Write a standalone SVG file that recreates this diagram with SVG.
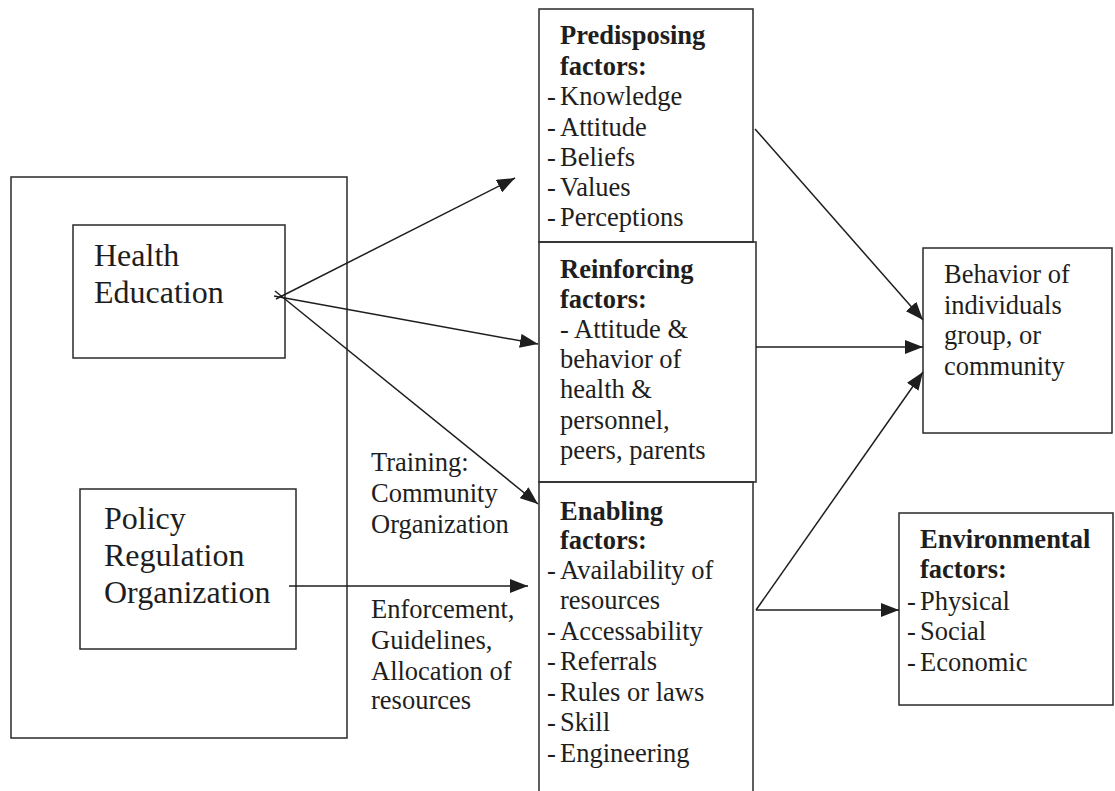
<svg xmlns="http://www.w3.org/2000/svg" width="1115" height="791" viewBox="0 0 1115 791">
  <defs>
    <marker id="arrow" viewBox="0 0 18 14" refX="18" refY="7" markerWidth="18" markerHeight="14" markerUnits="userSpaceOnUse" orient="auto">
      <path d="M0,0 L18,7 L0,14 Z" fill="#1e1e1e"/>
    </marker>
    <style>
      .box { fill: none; stroke: #2a2a2a; stroke-width: 1.5; }
      .t { font-family: "Liberation Serif", "Times New Roman", serif; font-size: 26.5px; fill: #1e1e1e; }
      .big { font-size: 32px; }
      .b { font-weight: bold; }
      .edge { fill: none; stroke: #1e1e1e; stroke-width: 1.5; marker-end: url(#arrow); }
    </style>
  </defs>
  <rect width="1115" height="791" fill="#ffffff"/>

  <!-- Outer frame holding the two intervention boxes -->
  <g id="interventions">
    <rect class="box" x="11" y="177" width="336" height="561"/>
  </g>

  <g id="health-education">
    <rect class="box" x="73" y="225" width="212" height="133"/>
    <text class="t big" x="94" y="266">Health</text>
    <text class="t big" x="94" y="303">Education</text>
  </g>

  <g id="policy">
    <rect class="box" x="80" y="489" width="216" height="160"/>
    <text class="t big" x="104" y="529">Policy</text>
    <text class="t big" x="104" y="566">Regulation</text>
    <text class="t big" x="104" y="603">Organization</text>
  </g>

  <g id="predisposing">
    <rect class="box" x="539" y="9" width="214" height="233"/>
    <text class="t b" x="560" y="44">Predisposing</text>
    <text class="t b" x="560" y="75">factors:</text>
    <text class="t" x="547" y="105">-</text><text class="t" x="560" y="105">Knowledge</text>
    <text class="t" x="547" y="136">-</text><text class="t" x="560" y="136">Attitude</text>
    <text class="t" x="547" y="166">-</text><text class="t" x="560" y="166">Beliefs</text>
    <text class="t" x="547" y="196">-</text><text class="t" x="560" y="196">Values</text>
    <text class="t" x="547" y="226">-</text><text class="t" x="560" y="226">Perceptions</text>
  </g>

  <g id="reinforcing">
    <rect class="box" x="539" y="242" width="217" height="240"/>
    <text class="t b" x="560" y="278">Reinforcing</text>
    <text class="t b" x="560" y="308">factors:</text>
    <text class="t" x="560" y="338">- Attitude &amp;</text>
    <text class="t" x="560" y="368">behavior of</text>
    <text class="t" x="560" y="398">health &amp;</text>
    <text class="t" x="560" y="429">personnel,</text>
    <text class="t" x="560" y="459">peers, parents</text>
  </g>

  <g id="enabling">
    <rect class="box" x="539" y="482" width="214" height="330"/>
    <text class="t b" x="560" y="520">Enabling</text>
    <text class="t b" x="560" y="549">factors:</text>
    <text class="t" x="547" y="579">-</text><text class="t" x="560" y="579">Availability of</text>
    <text class="t" x="560" y="609">resources</text>
    <text class="t" x="547" y="640">-</text><text class="t" x="560" y="640">Accessability</text>
    <text class="t" x="547" y="670">-</text><text class="t" x="560" y="670">Referrals</text>
    <text class="t" x="547" y="701">-</text><text class="t" x="560" y="701">Rules or laws</text>
    <text class="t" x="547" y="731">-</text><text class="t" x="560" y="731">Skill</text>
    <text class="t" x="547" y="762">-</text><text class="t" x="560" y="762">Engineering</text>
  </g>

  <g id="behavior">
    <rect class="box" x="923" y="248" width="189" height="185"/>
    <text class="t" x="944" y="283">Behavior of</text>
    <text class="t" x="944" y="314">individuals</text>
    <text class="t" x="944" y="344">group, or</text>
    <text class="t" x="944" y="375">community</text>
  </g>

  <g id="environmental">
    <rect class="box" x="899" y="513" width="214" height="192"/>
    <text class="t b" x="920" y="548">Environmental</text>
    <text class="t b" x="920" y="578">factors:</text>
    <text class="t" x="907" y="610">-</text><text class="t" x="920" y="610">Physical</text>
    <text class="t" x="907" y="640">-</text><text class="t" x="920" y="640">Social</text>
    <text class="t" x="907" y="671">-</text><text class="t" x="920" y="671">Economic</text>
  </g>

  <g id="connectors">
    <line class="edge" x1="276" y1="299" x2="515" y2="178"/>
    <line class="edge" x1="274" y1="296" x2="538" y2="344"/>
    <line class="edge" x1="275" y1="291" x2="538" y2="504"/>
    <line class="edge" x1="289" y1="586" x2="528" y2="586"/>
    <line class="edge" x1="755" y1="129" x2="923" y2="320"/>
    <line class="edge" x1="756" y1="347" x2="923" y2="347"/>
    <line class="edge" x1="756" y1="610" x2="923" y2="372"/>
    <line class="edge" x1="756" y1="610" x2="899" y2="610"/>
  </g>

  <g id="labels">
    <text class="t" x="371" y="471">Training:</text>
    <text class="t" x="371" y="502">Community</text>
    <text class="t" x="371" y="533">Organization</text>
    <text class="t" x="371" y="618">Enforcement,</text>
    <text class="t" x="371" y="649">Guidelines,</text>
    <text class="t" x="371" y="680">Allocation of</text>
    <text class="t" x="371" y="709">resources</text>
  </g>
</svg>
